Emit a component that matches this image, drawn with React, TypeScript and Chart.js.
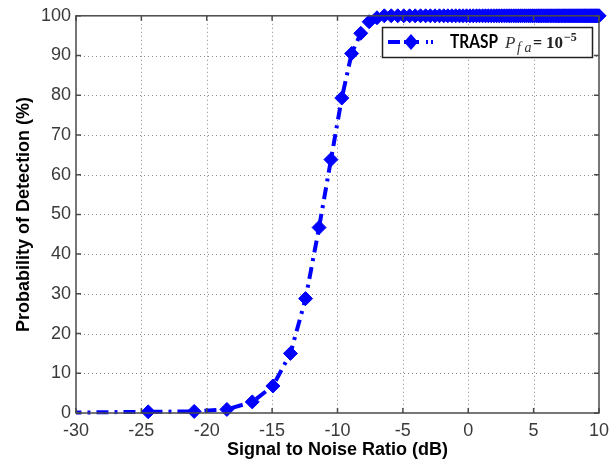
import { useEffect, useRef } from "react";
import { Chart, registerables } from "chart.js";

Chart.register(...registerables);

// Signal-to-noise ratio (dB) of each simulated point
const snrDb = [
  -30.5, -24.48, -20.96, -18.46, -16.52, -14.94, -13.6, -12.44, -11.41, -10.5,
  -9.67, -8.92, -8.22, -7.58, -6.98, -6.42, -5.89, -5.39, -4.93, -4.48,
  -4.06, -3.65, -3.26, -2.9, -2.54, -2.2, -1.87, -1.56, -1.25, -0.96,
  -0.67, -0.4, -0.13, 0.13, 0.38, 0.63, 0.86, 1.1, 1.32, 1.54,
  1.76, 1.97, 2.17, 2.37, 2.56, 2.76, 2.94, 3.13, 3.3, 3.48,
  3.65, 3.82, 3.99, 4.15, 4.31, 4.46, 4.62, 4.77, 4.92, 5.06,
  5.21, 5.35, 5.49, 5.62, 5.76, 5.89, 6.02, 6.15, 6.28, 6.4,
  6.53, 6.65, 6.77, 6.88, 7.0, 7.12, 7.23, 7.34, 7.45, 7.56,
  7.67, 7.78, 7.88, 7.99, 8.09, 8.19, 8.29, 8.39, 8.49, 8.59,
  8.68, 8.78, 8.87, 8.96, 9.05, 9.15, 9.24, 9.32, 9.41, 9.5,
  9.59, 9.67, 9.76, 9.84, 9.92, 10.01,
];

// Probability of detection (%)
const pdPercent = [
  0.1, 0.3, 0.4, 0.9, 2.8, 6.8, 15.0, 28.8, 46.7, 63.8,
  79.3, 90.5, 95.6, 98.5, 99.5, 100, 100, 100, 100, 100,
  100, 100, 100, 100, 100, 100, 100, 100, 100, 100,
  100, 100, 100, 100, 100, 100, 100, 100, 100, 100,
  100, 100, 100, 100, 100, 100, 100, 100, 100, 100,
  100, 100, 100, 100, 100, 100, 100, 100, 100, 100,
  100, 100, 100, 100, 100, 100, 100, 100, 100, 100,
  100, 100, 100, 100, 100, 100, 100, 100, 100, 100,
  100, 100, 100, 100, 100, 100, 100, 100, 100, 100,
  100, 100, 100, 100, 100, 100, 100, 100, 100, 100,
  100, 100, 100, 100, 100, 100,
];

const xTickValues = [-30, -25, -20, -15, -10, -5, 0, 5, 10];
const yTickValues = [0, 10, 20, 30, 40, 50, 60, 70, 80, 90, 100];

const seriesLabel = "TRASP";
const xTitle = "Signal to Noise Ratio (dB)";
const yTitle = "Probability of Detection (%)";

const BLUE = "#0000ff";
const SANS = '"Liberation Sans", Arial, sans-serif';
const SERIF = '"Liberation Serif", "DejaVu Serif", serif';

export default function App() {
  const ref = useRef<HTMLCanvasElement | null>(null);

  useEffect(() => {
    const canvas = ref.current;
    if (!canvas) return;

    const framePlugin = {
      id: "matlabFrame",
      beforeDatasetsDraw(chart: any) {
        const { ctx, chartArea: a, scales } = chart;
        const xs = scales.x;
        const ys = scales.y;
        ctx.save();
        ctx.strokeStyle = "#8a8a8a";
        ctx.lineWidth = 1;
        ctx.setLineDash([1, 3]);
        for (const v of xTickValues) {
          if (v === xs.min || v === xs.max) continue;
          const px = Math.round(xs.getPixelForValue(v)) + 0.5;
          ctx.beginPath();
          ctx.moveTo(px, a.top);
          ctx.lineTo(px, a.bottom);
          ctx.stroke();
        }
        for (const v of yTickValues) {
          if (v === ys.min || v === ys.max) continue;
          const py = Math.round(ys.getPixelForValue(v)) + 0.5;
          ctx.beginPath();
          ctx.moveTo(a.left, py);
          ctx.lineTo(a.right, py);
          ctx.stroke();
        }
        ctx.restore();
      },
      afterDatasetsDraw(chart: any) {
        const { ctx, chartArea: a, scales } = chart;
        const xs = scales.x;
        const ys = scales.y;
        ctx.save();
        ctx.setLineDash([]);
        ctx.strokeStyle = "#4a4a4a";
        ctx.lineWidth = 1.5;
        ctx.strokeRect(a.left, a.top, a.right - a.left, a.bottom - a.top);
        const tl = 5;
        ctx.beginPath();
        for (const v of xTickValues) {
          const px = xs.getPixelForValue(v);
          ctx.moveTo(px, a.bottom);
          ctx.lineTo(px, a.bottom - tl);
          ctx.moveTo(px, a.top);
          ctx.lineTo(px, a.top + tl);
        }
        for (const v of yTickValues) {
          const py = ys.getPixelForValue(v);
          ctx.moveTo(a.left, py);
          ctx.lineTo(a.left + tl, py);
          ctx.moveTo(a.right, py);
          ctx.lineTo(a.right - tl, py);
        }
        ctx.stroke();

        // Legend
        const bx = 382.5, by = 27.5, bw = 210, bh = 30;
        ctx.fillStyle = "#ffffff";
        ctx.fillRect(bx, by, bw, bh);
        ctx.strokeStyle = "#222222";
        ctx.lineWidth = 1.5;
        ctx.strokeRect(bx, by, bw, bh);

        const ly = 42;
        ctx.strokeStyle = BLUE;
        ctx.lineWidth = 4;
        ctx.beginPath();
        ctx.moveTo(388, ly);
        ctx.lineTo(400, ly);
        ctx.moveTo(404, ly);
        ctx.lineTo(419, ly);
        ctx.stroke();
        ctx.lineWidth = 2;
        ctx.beginPath();
        ctx.moveTo(427, ly - 2);
        ctx.lineTo(427, ly + 2);
        ctx.moveTo(432, ly - 2);
        ctx.lineTo(432, ly + 2);
        ctx.stroke();
        ctx.fillStyle = BLUE;
        ctx.beginPath();
        ctx.moveTo(411 - 7, ly);
        ctx.lineTo(411, ly - 8);
        ctx.lineTo(411 + 7, ly);
        ctx.lineTo(411, ly + 8);
        ctx.closePath();
        ctx.fill();

        ctx.fillStyle = "#000000";
        ctx.textBaseline = "alphabetic";
        ctx.textAlign = "left";
        ctx.font = 'bold 19px Lato, "Open Sans", sans-serif';
        const tw = ctx.measureText(seriesLabel).width;
        ctx.save();
        ctx.translate(450, 48);
        ctx.scale(48 / tw, 1);
        ctx.fillText(seriesLabel, 0, 0);
        ctx.restore();

        ctx.fillStyle = "#333333";
        ctx.font = `italic 17px ${SERIF}`;
        ctx.fillText("P", 505, 48);
        ctx.font = `italic 14px ${SERIF}`;
        ctx.fillText("f a", 517, 52);
        ctx.fillStyle = "#222222";
        ctx.font = `bold 16px ${SERIF}`;
        ctx.fillText("=", 533, 48);
        ctx.font = `bold 17px ${SERIF}`;
        ctx.fillText("10", 546, 48);
        ctx.font = `bold 12px ${SERIF}`;
        ctx.fillText("\u22125", 564, 41);
        ctx.restore();
      },
    };

    const chart = new Chart(canvas, {
      type: "line",
      data: {
        datasets: [
          {
            label: seriesLabel,
            data: snrDb.map((x, i) => ({ x, y: pdPercent[i] })),
            borderColor: BLUE,
            backgroundColor: BLUE,
            borderWidth: 4,
            borderDash: [12, 6, 3, 6],
            pointStyle: "rectRot",
            pointRadius: 7,
            pointBorderWidth: 1,
            pointBackgroundColor: BLUE,
            pointBorderColor: BLUE,
            tension: 0,
            fill: false,
            clip: { left: 0, top: false, right: false, bottom: false } as any,
          },
        ],
      },
      options: {
        responsive: false,
        animation: false,
        layout: { padding: { top: 14, right: 16, left: 0, bottom: 0 } },
        plugins: {
          legend: { display: false },
          tooltip: { enabled: false },
        },
        scales: {
          x: {
            type: "linear",
            min: -30,
            max: 10,
            afterBuildTicks: (s: any) => {
              s.ticks = xTickValues.map((v) => ({ value: v }));
            },
            afterFit: (s: any) => {
              s.height = 52;
            },
            ticks: {
              color: "#3a3a3a",
              font: { family: SANS, size: 18 },
              padding: 7,
              maxRotation: 0,
              autoSkip: false,
            },
            grid: { display: false, drawTicks: false },
            border: { display: false },
            title: {
              display: true,
              text: xTitle,
              color: "#000000",
              font: { family: SANS, size: 18, weight: "bold" },
              padding: { top: 0, bottom: 4 },
            },
          },
          y: {
            type: "linear",
            min: 0,
            max: 100,
            afterBuildTicks: (s: any) => {
              s.ticks = yTickValues.map((v) => ({ value: v }));
            },
            afterFit: (s: any) => {
              s.width = 76;
            },
            ticks: {
              color: "#3a3a3a",
              font: { family: SANS, size: 18 },
              padding: 5,
              autoSkip: false,
            },
            grid: { display: false, drawTicks: false },
            border: { display: false },
            title: {
              display: true,
              text: yTitle,
              color: "#000000",
              font: { family: SANS, size: 18, weight: "bold" },
              padding: { top: 13, bottom: 0 },
            },
          },
        },
      },
      plugins: [framePlugin],
    });

    return () => chart.destroy();
  }, []);

  return (
    <div style={{ position: "absolute", left: 0, top: 0, width: 616, height: 465, background: "#ffffff" }}>
      <canvas ref={ref} width={616} height={465} style={{ display: "block" }} />
    </div>
  );
}
